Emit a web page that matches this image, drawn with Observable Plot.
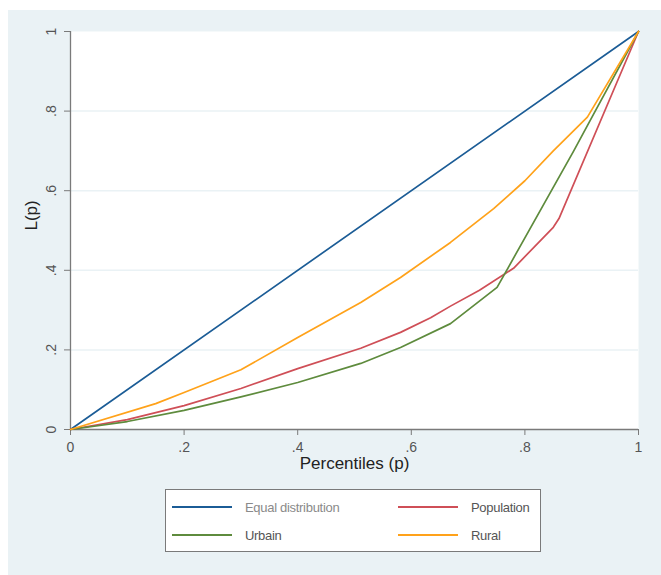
<!DOCTYPE html>
<html>
<head>
<meta charset="utf-8">
<script src="https://cdn.jsdelivr.net/npm/d3@7"></script>
<script src="https://cdn.jsdelivr.net/npm/@observablehq/plot@0.6"></script>
<style>
  html, body { margin: 0; padding: 0; background: #ffffff; }
  #wrap { position: relative; width: 661px; height: 575px; overflow: hidden; font-family: "Liberation Sans", Arial, sans-serif; }
  #bg { position: absolute; left: 8px; top: 10px; width: 653px; height: 565px; background: #eaf2f5; }
  #chart { position: absolute; left: 0; top: 0; }
  #chart svg { background: transparent !important; }
  #legend { position: absolute; left: 165px; top: 489px; width: 376px; height: 63px; background: #ffffff; border: 1px solid #7a7a7a; box-sizing: border-box; }
  .item { position: absolute; height: 20px; display: flex; align-items: center; font-size: 13px; letter-spacing: -0.3px; color: #555; }
  .sw { width: 60px; height: 2px; margin-right: 13px; }
</style>
</head>
<body>
<div id="wrap">
  <div id="bg"></div>
  <div id="chart"></div>
  <div id="legend"></div>
</div>
<script>
// ---- data ----
const seriesNames = ["Equal distribution", "Population", "Urbain", "Rural"];
const seriesColors = ["#1b5c96", "#cf4f57", "#5e8b3d", "#ffa21a"];

const equalP = [0, 1];
const equalL = [0, 1];

const populationP = [0, 0.1, 0.2, 0.3, 0.4, 0.511, 0.581, 0.634, 0.669, 0.72, 0.78, 0.85, 0.86, 1];
const populationL = [0, 0.025, 0.06, 0.103, 0.153, 0.204, 0.244, 0.281, 0.31, 0.35, 0.405, 0.508, 0.53, 1];

const urbainP = [0, 0.1, 0.2, 0.3, 0.4, 0.511, 0.581, 0.669, 0.751, 0.886, 0.92, 1];
const urbainL = [0, 0.02, 0.048, 0.082, 0.118, 0.166, 0.206, 0.266, 0.357, 0.70, 0.79, 1];

const ruralP = [0, 0.15, 0.2, 0.3, 0.4, 0.511, 0.581, 0.669, 0.745, 0.8, 0.85, 0.91, 1];
const ruralL = [0, 0.065, 0.093, 0.15, 0.231, 0.319, 0.382, 0.47, 0.555, 0.625, 0.70, 0.785, 1];

const xTicks = [0, 0.2, 0.4, 0.6, 0.8, 1];
const yTicks = [0, 0.2, 0.4, 0.6, 0.8, 1];
const gridY = [0.2, 0.4, 0.6, 0.8];

const xLabel = "Percentiles (p)";
const yLabel = "L(p)";

// ---- build table ----
const pairs = [[equalP, equalL], [populationP, populationL], [urbainP, urbainL], [ruralP, ruralL]];
const rows = [];
pairs.forEach(([ps, ls], i) => ps.forEach((p, j) => rows.push({series: seriesNames[i], p, L: ls[j]})));

const fmt = d => d === 0 ? "0" : d === 1 ? "1" : d3.format(".1f")(d).replace(/^0/, "");

const plot = Plot.plot({
  width: 661,
  height: 480,
  marginLeft: 70,
  marginRight: 23,
  marginTop: 31,
  marginBottom: 51,
  style: {background: "transparent", fontFamily: "Liberation Sans, Arial, sans-serif"},
  x: {domain: [0, 1]},
  y: {domain: [0, 1]},
  color: {domain: seriesNames, range: seriesColors},
  marks: [
    Plot.frame({fill: "#ffffff", stroke: null}),
    Plot.ruleY(gridY, {stroke: "#eaf2f5", strokeWidth: 1.5}),
    Plot.ruleX([0], {stroke: "#7a7a7a", strokeWidth: 1.3}),
    Plot.ruleY([0], {stroke: "#7a7a7a", strokeWidth: 1.3}),
    Plot.axisX({ticks: xTicks, tickFormat: fmt, tickSize: 6, tickPadding: 7, fontSize: 14, stroke: "#7a7a7a", fill: "#555", label: null}),
    Plot.axisY({ticks: yTicks, tickFormat: fmt, tickSize: 6, tickPadding: 9, tickRotate: -90, fontSize: 14, stroke: "#7a7a7a", fill: "#555", label: null}),
    Plot.line(rows, {x: "p", y: "L", z: "series", stroke: "series", strokeWidth: 1.7}),
    Plot.text([xLabel], {frameAnchor: "bottom", dy: 39, fontSize: 17, fill: "#222"}),
    Plot.text([yLabel], {frameAnchor: "left", dx: -39, rotate: -90, fontSize: 17, fill: "#222"})
  ]
});
document.getElementById("chart").appendChild(plot);

// ---- legend ----
const legend = document.getElementById("legend");
const pos = [[6, 7], [232, 7], [6, 35], [232, 35]];
const legendNames = ["Equal distribution", "Population", "Urbain", "Rural"];
legendNames.forEach((name, k) => {
  const i = seriesNames.indexOf(name);
  const item = document.createElement("div");
  item.className = "item";
  item.style.left = pos[k][0] + "px";
  item.style.top = pos[k][1] + "px";
  const sw = document.createElement("div");
  sw.className = "sw";
  sw.style.background = seriesColors[i];
  const tx = document.createElement("span");
  tx.textContent = name;
  if (k === 0) tx.style.color = "#8a8a8a";
  item.appendChild(sw);
  item.appendChild(tx);
  legend.appendChild(item);
});
</script>
</body>
</html>
